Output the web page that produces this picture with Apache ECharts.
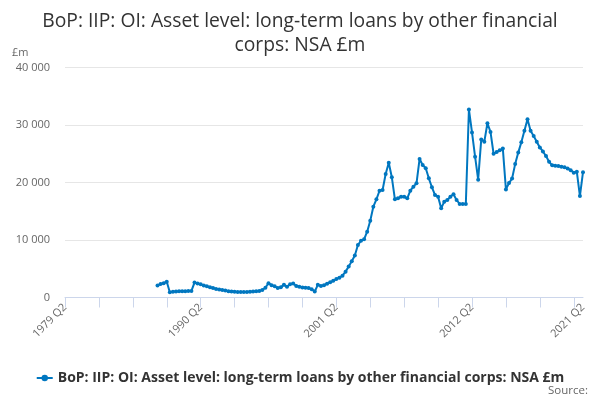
<!DOCTYPE html>
<html>
<head>
<meta charset="utf-8">
<script src="https://cdn.jsdelivr.net/npm/echarts@6/dist/echarts.min.js"></script>
<style>
html,body{margin:0;padding:0;background:#fff;}
#chart{width:600px;height:400px;}
</style>
</head>
<body>
<div id="chart"></div>
<script>
// Categories: quarterly from 1979 Q2 to 2021 Q2
const startYear = 1979, startQuarter = 2, endYear = 2021, endQuarter = 2;
const categories = [];
for (let y = startYear, q = startQuarter; y < endYear || (y === endYear && q <= endQuarter); ) {
  categories.push(y + ' Q' + q);
  q++; if (q > 4) { q = 1; y++; }
}
// Series values from 1986 Q4 onwards (£m)
const firstDataQuarter = '1986 Q4';
const seriesValues = [
  2100, 2350, 2500, 2750, 900, 1000, 1050, 1080, 1100, 1100,
  1120, 1150, 2600, 2450, 2300, 2100, 1950, 1800, 1650, 1500,
  1400, 1300, 1200, 1100, 1050, 1000, 950, 950, 950, 950,
  1000, 1050, 1100, 1150, 1300, 1700, 2500, 2150, 1950, 1650,
  1800, 2200, 1850, 2300, 2450, 2000, 1850, 1750, 1700, 1650,
  1450, 1050, 2200, 2000, 2150, 2400, 2650, 2900, 3200, 3450,
  3800, 4500, 5400, 6300, 7300, 9130, 9880, 10120, 11440, 13360,
  15790, 17080, 18570, 18700, 21480, 23440, 20900, 17080, 17250, 17530,
  17530, 17250, 18570, 19270, 19860, 24090, 23040, 22470, 20730, 19170,
  17830, 17530, 15510, 16670, 16960, 17530, 17950, 16960, 16260, 16260,
  16260, 32700, 28700, 24500, 20500, 27500, 27100, 30300, 28800, 25000,
  25300, 25600, 25900, 18800, 19900, 20700, 23200, 25200, 27000, 29000,
  31000, 29000, 28100, 27100, 26100, 25400, 24600, 23600, 23000, 22900,
  22850, 22750, 22650, 22450, 22150, 21700, 21850, 17650, 21800
];
const seriesName = 'BoP: IIP: OI: Asset level: long-term loans by other financial corps: NSA £m';
const titleLines = ['BoP: IIP: OI: Asset level: long-term loans by other financial', 'corps: NSA £m'];
const yTicks = [0, 10000, 20000, 30000, 40000];

const offset = categories.indexOf(firstDataQuarter);
const data = categories.map((c, i) => (i >= offset && i - offset < seriesValues.length) ? seriesValues[i - offset] : null);
const lastIdx = categories.length - 1;

const chart = echarts.init(document.getElementById('chart'));
chart.setOption({
  animation: false,
  textStyle: { fontFamily: 'Open Sans' },
  title: {
    text: titleLines.join('\n'),
    left: 'center', top: 5,
    textStyle: { fontFamily: 'Open Sans', fontSize: 19.3, fontWeight: 'normal', color: '#333333', lineHeight: 24 }
  },
  grid: { left: 65, right: 17, top: 67.5, bottom: 102.5, containLabel: false },
  legend: {
    top: 366, left: 'center',
    itemWidth: 16, itemHeight: 8, itemGap: 5,
    textStyle: { fontFamily: 'Open Sans', fontSize: 14, fontWeight: 'bold', color: '#333333' }
  },
  graphic: [
    { type: 'text', left: 12, top: 47, style: { text: '£m', fontFamily: 'Open Sans', fontSize: 11, fill: '#666666' } },
    { type: 'text', right: 12, top: 385, style: { text: 'Source:', fontFamily: 'Open Sans', fontSize: 11.5, fill: '#666666' } }
  ],
  xAxis: {
    type: 'category', data: categories, boundaryGap: false,
    axisLine: { lineStyle: { color: '#ccd6eb', width: 1 } },
    axisTick: { interval: (i) => i % 11 === 0, length: 10, lineStyle: { color: '#ccd6eb' } },
    axisLabel: {
      interval: (i) => i % 44 === 0 || i === lastIdx,
      rotate: 45, color: '#666666', fontSize: 11, fontFamily: 'Open Sans', margin: 8
    },
    splitLine: { show: false }
  },
  yAxis: {
    type: 'value', min: yTicks[0], max: yTicks[yTicks.length - 1], interval: yTicks[1] - yTicks[0],
    axisLine: { show: false }, axisTick: { show: false },
    axisLabel: {
      color: '#666666', fontSize: 11, fontFamily: 'Open Sans', margin: 15,
      formatter: (v) => String(v).replace(/\B(?=(\d{3})+(?!\d))/g, ' ')
    },
    splitLine: { lineStyle: { color: '#e6e6e6' } }
  },
  series: [{
    name: seriesName, type: 'line', data: data,
    connectNulls: false,
    symbol: 'circle', symbolSize: 4, showSymbol: true, showAllSymbol: true,
    lineStyle: { color: '#0077c0', width: 2 },
    itemStyle: { color: '#0077c0' }
  }]
});
</script>
</body>
</html>
